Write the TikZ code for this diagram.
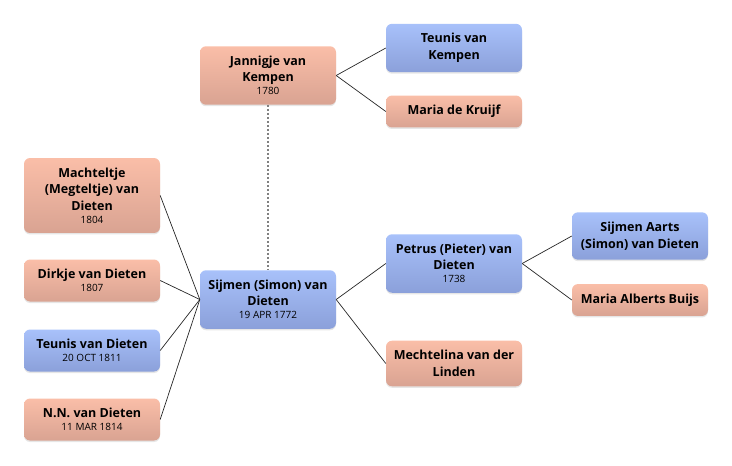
\documentclass[tikz,border=0pt]{standalone}
\usepackage{fontspec}
\setmainfont{Open Sans}
\usetikzlibrary{shadows}
\definecolor{womantop}{RGB}{250,190,168}
\definecolor{womanbot}{RGB}{217,163,146}
\definecolor{mantop}{RGB}{168,193,250}
\definecolor{manbot}{RGB}{139,160,218}
\newcommand{\born}[1]{\\[-3.5pt]{\normalfont\fontsize{10}{12}\selectfont #1}}
\begin{document}
\begin{tikzpicture}[x=1pt, y=-1pt,
		person/.style={rounded corners=6pt, align=center, minimum width=136pt, inner ysep=9.7pt,
			font=\bfseries\fontsize{12.5}{16.5}\selectfont,
			drop shadow={shadow xshift=0pt, shadow yshift=-1.5pt, opacity=0.2}},
		woman/.style={person, top color=womantop, bottom color=womanbot},
		man/.style={person, top color=mantop, bottom color=manbot},
		link/.style={draw=black!85, line width=0.7pt}]
			\useasboundingbox (0,0) rectangle (732,466);

			% Draw the parents of the wife
			\node[woman] (jannigje) at (268,75.5) {Jannigje van\\Kempen\born{1780}};
			\node[man] (teunisK) at (454,48) {Teunis van\\Kempen};
			\node[woman] (mariaK) at (454,111.5) {Maria de Kruijf};

			% Draw the children
			\node[woman] (machteltje) at (92,195.5) {Machteltje\\(Megteltje) van\\Dieten\born{1804}};
			\node[woman] (dirkje) at (92,280.5) {Dirkje van Dieten\born{1807}};
			\node[man] (teunisD) at (92,350.5) {Teunis van Dieten\born{20 OCT 1811}};
			\node[woman] (nn) at (92,419.5) {N.N. van Dieten\born{11 MAR 1814}};

			% Draw the root and his parents
			\node[man] (sijmen) at (268,299.5) {Sijmen (Simon) van\\Dieten\born{19 APR 1772}};
			\node[man] (petrus) at (454,263.5) {Petrus (Pieter) van\\Dieten\born{1738}};
			\node[woman] (mechtelina) at (454,363.5) {Mechtelina van der\\Linden};
			\node[man] (sijmenA) at (640,236) {Sijmen Aarts\\(Simon) van Dieten};
			\node[woman] (mariaA) at (640,300) {Maria Alberts Buijs};

			% Draw the marriage line
			\draw[gray, line width=1.3pt, dash pattern=on 2pt off 2pt] (jannigje.south) -- (sijmen.north);

			% Draw the lines to the parents
			\draw[link] (jannigje.east) -- (teunisK.west);
			\draw[link] (jannigje.east) -- (mariaK.west);
			\draw[link] (sijmen.east) -- (petrus.west);
			\draw[link] (sijmen.east) -- (mechtelina.west);
			\draw[link] (petrus.east) -- (sijmenA.west);
			\draw[link] (petrus.east) -- (mariaA.west);

			% Draw the lines to the children
			\draw[link] (sijmen.west) -- (machteltje.east);
			\draw[link] (sijmen.west) -- (dirkje.east);
			\draw[link] (sijmen.west) -- (teunisD.east);
			\draw[link] (sijmen.west) -- (nn.east);

		\end{tikzpicture}
\end{document}
